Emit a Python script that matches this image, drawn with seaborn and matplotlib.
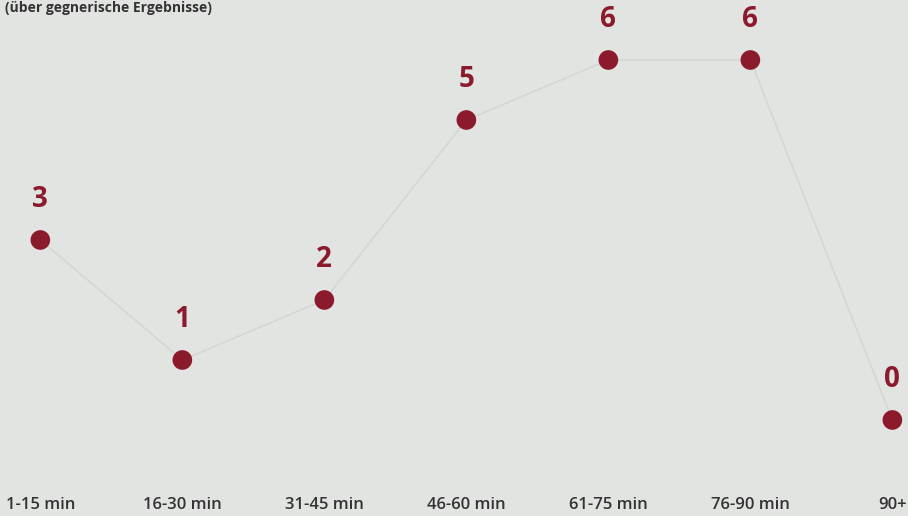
import matplotlib
matplotlib.use("Agg")
import matplotlib.pyplot as plt
import seaborn as sns
import pandas as pd

# data
intervals = ["1-15 min", "16-30 min", "31-45 min", "46-60 min", "61-75 min", "76-90 min", "90+"]
goals = [3, 1, 2, 5, 6, 6, 0]
subtitle = "(über gegnerische Ergebnisse)"

df = pd.DataFrame({"pos": range(len(intervals)), "goals": goals})

bg = "#e2e4e2"
red = "#8a1a2c"

sns.set_theme(style="white")
plt.rcParams["font.family"] = ["Open Sans", "DejaVu Sans"]

fig = plt.figure(figsize=(9.08, 5.16), dpi=100, facecolor=bg)
ax = fig.add_axes([0, 26 / 516, 1, 490 / 516])
ax.set_facecolor(bg)

sns.lineplot(data=df, x="pos", y="goals", ax=ax, color="#c4c5c4", lw=1.2, alpha=0.45)
sns.scatterplot(data=df, x="pos", y="goals", ax=ax, color=red, s=200,
                edgecolor="none", zorder=3)

for x, y in zip(df["pos"], df["goals"]):
    ax.annotate(str(y), (x, y), xytext=(0, 29), textcoords="offset points",
                ha="center", va="center", fontsize=20, fontweight="bold", color=red)

ax.set_xlim(-0.284, 6.11)
ax.set_ylim(-1.167, 7)
ax.set_xticks(range(len(intervals)))
ax.set_xticklabels(intervals, fontsize=12, fontweight="semibold", color="#333333")
ax.tick_params(axis="x", length=0, pad=5)
ax.set_yticks([])
ax.set_xlabel("")
ax.set_ylabel("")
for s in ax.spines.values():
    s.set_visible(False)

fig.text(0.006, 0.998, subtitle, ha="left", va="top", fontsize=10,
         fontweight="bold", color="#333333")

fig.savefig("out.png", dpi=100, facecolor=bg)
